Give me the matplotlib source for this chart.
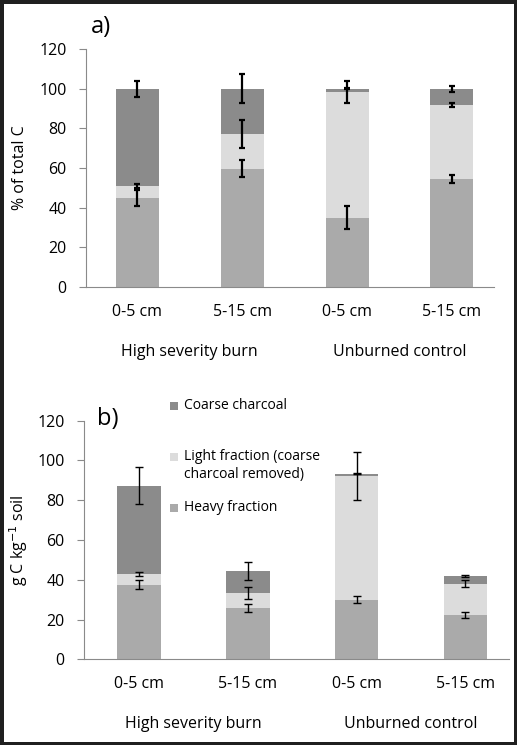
import matplotlib.pyplot as plt
from matplotlib.patches import Rectangle

plt.rcParams['font.family'] = ['Open Sans', 'DejaVu Sans']

depths = ["0-5 cm", "5-15 cm", "0-5 cm", "5-15 cm"]
groups = ["High severity burn", "Unburned control"]
yticks = [0, 20, 40, 60, 80, 100, 120]

# panel a: % of total C (segment heights, bottom to top)
heavy_a = [45.0, 59.5, 35.0, 54.5]
light_a = [6.0, 17.5, 63.3, 37.3]
coarse_a = [49.0, 23.0, 1.7, 8.2]
heavy_err_a = [4.0, 4.3, 5.6, 2.1]
light_err_a = [1.0, 7.0, 5.5, 1.0]
coarse_err_a = [4.0, 7.4, 0.4, 1.5]

# panel b: g C kg-1 soil
heavy_b = [37.5, 25.8, 30.0, 22.2]
light_b = [5.2, 7.5, 62.2, 15.8]
coarse_b = [44.5, 10.9, 1.1, 3.8]
heavy_err_b = [2.2, 2.2, 1.6, 1.4]
light_err_b = [1.0, 3.0, 12.0, 1.8]
coarse_err_b = [9.3, 4.5, 0.3, 0.5]

names = ["Coarse charcoal", "Light fraction (coarse\ncharcoal removed)", "Heavy fraction"]
c_coarse, c_light, c_heavy = "#8b8b8b", "#dcdcdc", "#aaaaaa"
axis_col = "#8a8a8a"
fs = 11.5

fig = plt.figure(figsize=(5.17, 7.45), dpi=100, facecolor="#1f1f1f")
fig.patches.append(Rectangle((3.5 / 517, 3.5 / 745), 1 - 7 / 517, 1 - 7 / 745,
                             transform=fig.transFigure, facecolor="white",
                             edgecolor="none", zorder=-5))


def panel(ax, heavy, light, coarse, errs, width, lw, cap, xlim, ylabel, lab_x):
    x = list(range(len(heavy)))
    top_h = heavy
    top_l = [h + l for h, l in zip(heavy, light)]
    top_c = [t + c for t, c in zip(top_l, coarse)]
    ax.bar(x, heavy, width, color=c_heavy, zorder=2)
    ax.bar(x, light, width, bottom=top_h, color=c_light, zorder=2)
    ax.bar(x, coarse, width, bottom=top_l, color=c_coarse, zorder=2)
    for tops, e in zip([top_h, top_l, top_c], errs):
        ax.errorbar(x, tops, yerr=e, fmt="none", ecolor="black", elinewidth=lw,
                    capsize=cap, capthick=lw, zorder=3)
    ax.set_xlim(*xlim)
    ax.set_ylim(0, 120)
    ax.set_yticks(yticks)
    ax.set_xticks(x)
    ax.set_xticklabels(depths, fontsize=fs)
    ax.tick_params(axis="x", length=0, pad=12)
    ax.tick_params(axis="y", length=5, color=axis_col, labelsize=fs, pad=9)
    for s in ["top", "right"]:
        ax.spines[s].set_visible(False)
    for s in ["left", "bottom"]:
        ax.spines[s].set_color(axis_col)
    ax.set_ylabel(ylabel, fontsize=fs)
    ax.yaxis.set_label_coords(lab_x, 0.5)
    trans = ax.get_xaxis_transform()
    ax.text(0.5, -0.272, groups[0], transform=trans, ha="center", va="center", fontsize=fs)
    ax.text(2.5, -0.272, groups[1], transform=trans, ha="center", va="center", fontsize=fs)


ax1 = fig.add_axes([0.1663, 0.6148, 0.789, 0.3195], facecolor="none")
panel(ax1, heavy_a, light_a, coarse_a, [heavy_err_a, light_err_a, coarse_err_a],
      0.41, 1.6, 2.3, (-0.49, 3.40), "% of total C", -0.142)
ax1.text(0.012, 1.092, "a)", transform=ax1.transAxes, fontsize=17, va="center")

ax2 = fig.add_axes([0.1625, 0.1150, 0.822, 0.3203], facecolor="none")
panel(ax2, heavy_b, light_b, coarse_b, [heavy_err_b, light_err_b, coarse_err_b],
      0.40, 1.0, 3.0, (-0.506, 3.40), "g C kg$^{-1}$ soil", -0.127)
ax2.text(0.03, 1.009, "b)", transform=ax2.transAxes, fontsize=17, va="center")

# legend entries (Excel-style, hand placed)
leg_y = [1.063, 0.847, 0.635]
for name, col, yy in zip(names, [c_coarse, c_light, c_heavy], leg_y):
    ax2.add_patch(Rectangle((0.202, yy - 0.017), 0.019, 0.034, transform=ax2.transAxes,
                            facecolor=col, edgecolor="none", clip_on=False))
    ax2.text(0.235, yy, name, transform=ax2.transAxes, fontsize=10,
             va="top" if "\n" in name else "center", linespacing=1.25)
ax2.texts[-2].set_y(0.847 + 0.035)

fig.savefig("out.png", dpi=100, facecolor=fig.get_facecolor())
